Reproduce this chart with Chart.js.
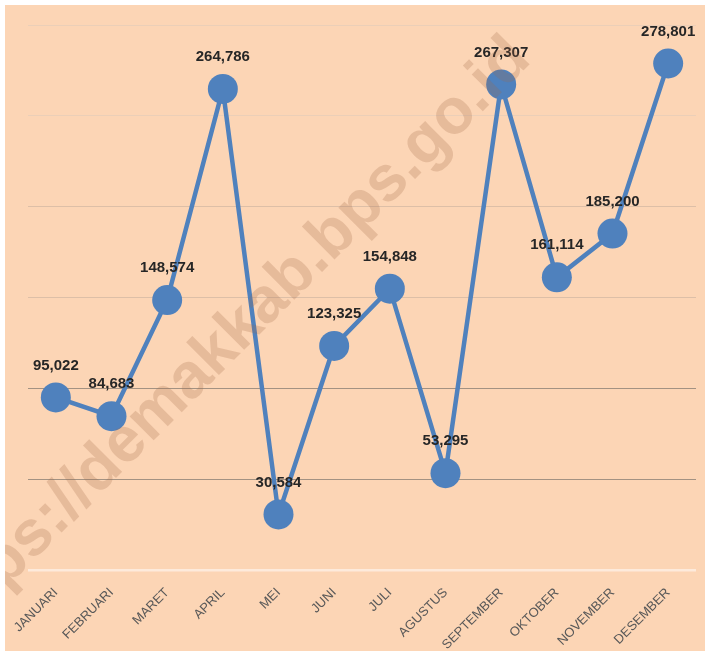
<!DOCTYPE html>
<html lang="en">
<head>
    <meta charset="UTF-8">
    <title>Monthly Chart</title>
    <script src="https://cdn.jsdelivr.net/npm/chart.js"></script>
    <style>
        html, body {
            margin: 0;
            padding: 0;
            background: #ffffff;
        }
        .chart-box {
            position: absolute;
            left: 5px;
            top: 5px;
            width: 700px;
            height: 646px;
            background: #FCD5B5;
        }
    </style>
</head>
<body>
    <div class="chart-box">
        <canvas id="monthChart" width="700" height="646"></canvas>
    </div>

    <script>
        // Data
        const months = ['JANUARI', 'FEBRUARI', 'MARET', 'APRIL', 'MEI', 'JUNI', 'JULI',
            'AGUSTUS', 'SEPTEMBER', 'OKTOBER', 'NOVEMBER', 'DESEMBER'];
        const values = [95022, 84683, 148574, 264786, 30584, 123325, 154848,
            53295, 267307, 161114, 185200, 278801];
        const yTicks = [0, 50000, 100000, 150000, 200000, 250000, 300000];

        // gridline colour per tick value (lower lines look darker in the original)
        function gridColor(value) {
            if (value === 0) return '#FDEADB';
            if (value <= 100000) return '#A39282';
            if (value <= 200000) return '#DDBFA7';
            return '#EBCFB8';
        }

        // value labels above each point
        const valueLabels = {
            id: 'valueLabels',
            afterDatasetsDraw(chart) {
                const ctx = chart.ctx;
                const meta = chart.getDatasetMeta(0);
                ctx.save();
                ctx.font = 'bold 15px "Liberation Sans", sans-serif';
                ctx.fillStyle = '#262626';
                ctx.textAlign = 'center';
                ctx.textBaseline = 'middle';
                meta.data.forEach((pt, i) => {
                    ctx.fillText(values[i].toLocaleString('en-US'), pt.x, pt.y - 32);
                });
                ctx.restore();
            }
        };

        // diagonal site watermark
        const watermark = {
            id: 'watermark',
            afterDraw(chart) {
                const ctx = chart.ctx;
                const text = 'https://demakkab.bps.go.id';
                const ang = -45 * Math.PI / 180;
                ctx.save();
                ctx.font = 'bold 64px "Liberation Sans", sans-serif';
                const off = ctx.measureText('https://demakkab.bps.g').width + ctx.measureText('o').width / 2;
                const bx = 461 - off * Math.cos(ang);
                const by = 123 - off * Math.sin(ang);
                ctx.translate(bx, by);
                ctx.rotate(ang);
                ctx.fillStyle = 'rgba(165, 105, 70, 0.24)';
                ctx.textAlign = 'left';
                ctx.textBaseline = 'alphabetic';
                ctx.fillText(text, 0, 0);
                ctx.restore();
            }
        };

        const ctx = document.getElementById('monthChart').getContext('2d');
        new Chart(ctx, {
            type: 'line',
            data: {
                labels: months,
                datasets: [{
                    data: values,
                    borderColor: '#4F81BD',
                    backgroundColor: '#4F81BD',
                    borderWidth: 4.5,
                    pointRadius: 15,
                    pointHoverRadius: 15,
                    pointBorderWidth: 0,
                    tension: 0
                }]
            },
            options: {
                responsive: false,
                animation: false,
                layout: {
                    autoPadding: false,
                    padding: { top: 20, left: 23, right: 9, bottom: 0 }
                },
                plugins: {
                    legend: { display: false },
                    tooltip: { enabled: false }
                },
                scales: {
                    x: {
                        offset: true,
                        grid: { display: false },
                        border: { display: false },
                        ticks: {
                            color: '#595959',
                            font: { family: '"Liberation Sans", sans-serif', size: 13 },
                            minRotation: 45,
                            maxRotation: 45,
                            padding: 7
                        },
                        afterFit(scale) {
                            scale.height = 81;
                            scale.paddingLeft = 0;
                            scale.paddingRight = 0;
                        }
                    },
                    y: {
                        min: 0,
                        max: 300000,
                        afterBuildTicks(scale) {
                            scale.ticks = yTicks.map(v => ({ value: v }));
                        },
                        ticks: { display: false },
                        border: { display: false },
                        grid: {
                            drawTicks: false,
                            color: c => gridColor(c.tick.value),
                            lineWidth: c => (c.tick.value === 0 ? 2.5 : 1)
                        },
                        afterFit(scale) { scale.width = 0; }
                    }
                }
            },
            plugins: [valueLabels, watermark]
        });
    </script>
</body>
</html>
